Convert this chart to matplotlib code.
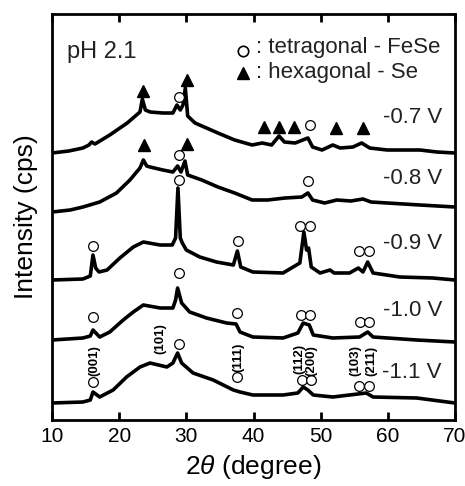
import matplotlib
matplotlib.use("Agg")
import matplotlib.pyplot as plt

plt.rcParams['font.family'] = ['Liberation Sans', 'DejaVu Sans']
plt.rcParams['mathtext.fontset'] = 'custom'
plt.rcParams['mathtext.it'] = 'Liberation Sans:italic'
plt.rcParams['mathtext.rm'] = 'Liberation Sans'

# ---------------- data (2theta in degree, intensity in arbitrary cps units) ----------------
labels = ["-0.7 V", "-0.8 V", "-0.9 V", "-1.0 V", "-1.1 V"]
offsets = [267, 208, 140, 80, 17]

tt_07 = [10.0, 12.5, 14.6, 15.5, 15.9, 16.4, 18.6, 21.2, 23.1, 23.45, 23.9, 24.6, 26.5, 28.0, 28.6,
         29.1, 29.5, 29.85, 30.2, 31.3, 34.7, 37.2, 39.8, 41.3, 42.7, 43.8, 44.6, 46.2, 48.1, 48.8,
         50.2, 51.8, 52.9, 54.8, 56.1, 57.3, 59.9, 62.3, 64.8, 67.3, 70.0]
i_07 = [0, 2, 5, 8, 11, 9, 18, 30, 41, 54, 43, 41, 40, 40, 48,
        43, 48, 65, 37, 30, 20, 13, 8, 10, 8, 17, 11, 10, 15, 6,
        3, 8, 5, 6, 10, 5, 3, 3, 3, 1, 0]

tt_08 = [10.0, 12.7, 14.6, 17.1, 19.6, 21.6, 23.1, 23.6, 24.1, 24.6, 26.5, 28.0, 28.7, 29.2, 29.8,
         30.2, 32.3, 34.7, 37.2, 39.8, 42.1, 44.7, 47.2, 48.1, 48.8, 50.6, 52.4, 54.5, 56.3, 57.5,
         59.9, 64.8, 70.0]
i_08 = [0, 2, 5, 10, 19, 32, 44, 52, 46, 45, 42, 40, 46, 40, 51,
        37, 32, 25, 19, 12, 12, 14, 15, 19, 12, 9, 12, 11, 13, 10,
        9, 7, 5]

tt_09 = [10.0, 14.6, 15.7, 16.1, 16.5, 17.0, 18.2, 20.1, 22.1, 23.6, 26.1, 27.9, 28.4, 28.75, 29.1,
         29.4, 30.0, 32.0, 34.5, 37.0, 37.6, 38.1, 39.9, 44.4, 46.9, 47.5, 47.9, 48.2, 48.6, 49.9,
         51.4, 52.0, 54.3, 55.6, 56.3, 57.0, 57.8, 61.8, 66.7, 70.0]
i_09 = [0, 1, 4, 25, 12, 8, 10, 22, 33, 38, 35, 35, 42, 92, 42,
        37, 30, 23, 18, 15, 29, 13, 8, 7, 17, 48, 30, 32, 13, 7,
        10, 7, 7, 12, 8, 18, 7, 3, 2, 0]

tt_10 = [10.0, 14.6, 15.7, 16.1, 17.1, 18.6, 20.6, 22.1, 23.6, 26.1, 28.0, 28.4, 28.7, 29.3, 30.5,
         33.0, 36.0, 37.4, 38.0, 39.9, 44.4, 46.6, 47.4, 48.3, 48.9, 51.8, 55.8, 57.0, 57.8, 64.3, 70.0]
i_10 = [0, 2, 4, 10, 3, 8, 20, 28, 35, 32, 32, 40, 52, 37, 28,
        22, 17, 16, 8, 3, 2, 7, 17, 15, 5, 2, 3, 8, 3, 0, -2]

tt_11 = [10.0, 14.6, 15.7, 16.1, 17.1, 19.1, 21.1, 23.1, 24.6, 27.1, 28.0, 28.7, 29.3, 31.0, 34.0,
         37.0, 38.0, 39.9, 44.4, 46.6, 47.4, 48.1, 48.9, 51.8, 56.8, 57.8, 64.3, 70.0]
i_11 = [0, 1, 3, 11, 6, 13, 26, 36, 40, 36, 40, 50, 40, 30, 23,
        13, 11, 8, 8, 10, 16, 13, 8, 6, 10, 6, 5, 0]

curves_tt = [tt_07, tt_08, tt_09, tt_10, tt_11]
curves_i = [i_07, i_08, i_09, i_10, i_11]

# peak markers: tetragonal FeSe (circles) and hexagonal Se (triangles), height above offset
fese_tt = [[28.9, 48.4], [28.9, 48.1],
           [16.1, 28.9, 37.7, 46.9, 48.4, 55.7, 57.2],
           [16.1, 28.9, 37.6, 47.0, 48.4, 55.8, 57.2],
           [16.1, 28.9, 37.6, 47.2, 48.5, 55.7, 57.2]]
fese_h = [[56, 28], [57, 31],
          [34, 100, 39, 54, 54, 29, 29],
          [23, 67, 27, 25, 25, 18, 18],
          [21, 59, 26, 23, 23, 17, 17]]
se_tt = [[23.6, 30.1, 41.6, 43.8, 46.0, 52.3, 56.3], [23.7, 30.1], [], [], []]
se_h = [[62, 73, 26, 26, 26, 25, 25], [67, 68], [], [], []]

miller = ["(001)", "(101)", "(111)", "(112)", "(200)", "(103)", "(211)"]
miller_tt = [16.25, 26.2, 37.8, 46.9, 48.6, 55.2, 57.5]
miller_y = [59, 81, 63, 61, 59, 59, 59]

label_y = [303, 242, 177, 110, 47]

# ---------------- figure ----------------
W, H = 465, 486
fig = plt.figure(figsize=(W / 100, H / 100), dpi=100)
ax = fig.add_axes([52 / W, 1 - 420 / H, 403 / W, 406 / H])

for tt, inten, off in zip(curves_tt, curves_i, offsets):
    ax.plot(tt, [v + off for v in inten], color='black', lw=2.6, solid_joinstyle='round')

for k, off in enumerate(offsets):
    if fese_tt[k]:
        ax.plot(fese_tt[k], [h + off for h in fese_h[k]], ls='none', marker='o', ms=7.0,
                mfc='white', mec='black', mew=0.9)
    if se_tt[k]:
        ax.plot(se_tt[k], [h + off for h in se_h[k]], ls='none', marker='^', ms=8.0,
                mfc='black', mec='black')

for name, yy in zip(labels, label_y):
    ax.text(68.06, yy, name, ha='right', va='center', fontsize=16, color='#222222')

for m, x, y in zip(miller, miller_tt, miller_y):
    ax.text(x, y, m, rotation=90, ha='center', va='center', fontsize=9.5, fontweight='bold')

ax.text(12.2, 362, "pH 2.1", ha='left', va='baseline', fontsize=17, color='#222222')
ax.plot([38.4], [369], ls='none', marker='o', ms=7.5, mfc='white', mec='black', mew=1.2)
ax.text(40.4, 367, ": tetragonal - FeSe", ha='left', va='baseline', fontsize=16, color='#222222')
ax.plot([38.4], [347], ls='none', marker='^', ms=8.5, mfc='black', mec='black')
ax.text(40.4, 342, ": hexagonal - Se", ha='left', va='baseline', fontsize=16, color='#222222')

ax.set_xlim(10, 70)
ax.set_ylim(0, 406)
ax.set_xticks([10, 20, 30, 40, 50, 60, 70])
ax.set_yticks([])
ax.tick_params(axis='x', direction='in', top=True, bottom=True, length=6, width=2,
               labelsize=15, pad=5)
for s in ax.spines.values():
    s.set_linewidth(2)

ax.set_xlabel(r"2$\theta$ (degree)", fontsize=19, labelpad=5)
ax.set_ylabel("Intensity (cps)", fontsize=19, labelpad=10)

fig.savefig("out.png", dpi=100)
